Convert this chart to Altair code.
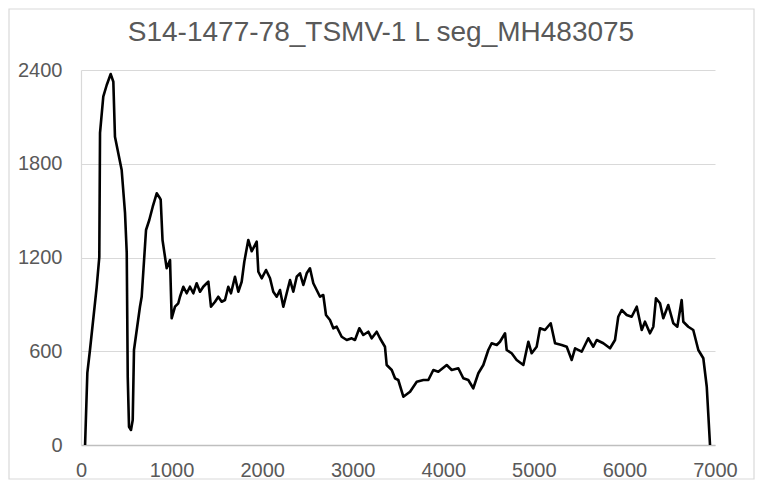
import altair as alt
import pandas as pd

title_text = "S14-1477-78_TSMV-1  L seg_MH483075"

positions = [45, 70, 99, 173, 202, 210, 246, 284, 328, 357, 375, 449, 486, 505, 516, 530, 552, 571, 585,
             651, 670, 718, 754, 792, 836, 872, 880, 900, 946, 983,
             1001, 1038, 1074, 1093, 1130, 1167, 1203, 1240, 1277, 1314, 1350, 1388, 1406, 1435, 1480,
             1516, 1553, 1590, 1626, 1656, 1700, 1737, 1774, 1803, 1847, 1885, 1940, 1958, 1995, 2043,
             2087, 2123, 2161, 2197, 2234, 2271, 2308, 2344, 2382, 2418, 2455, 2492, 2528, 2565, 2602,
             2639, 2675, 2705, 2749, 2786, 2823, 2878, 2934, 2989, 3025, 3073, 3117, 3172, 3210, 3265,
             3301, 3356, 3375, 3431, 3467, 3503, 3559,
             3633, 3707, 3780, 3835, 3890, 3945, 4038, 4093, 4166, 4221, 4276, 4331, 4387, 4442, 4497,
             4534, 4590, 4626, 4682, 4700, 4755, 4810, 4884, 4939, 4976, 5031, 5068, 5123, 5186, 5234,
             5307, 5363, 5418, 5455, 5528, 5601, 5656, 5694, 5767, 5841, 5896, 5932, 5970, 6025, 6080,
             6136, 6191, 6227, 6282, 6319, 6348, 6393, 6429, 6484, 6540, 6584, 6632, 6650, 6705, 6760,
             6816, 6871, 6909, 6945]
coverage = [0, 461, 608, 1011, 1203, 1997, 2229, 2304, 2374, 2325, 1973, 1760, 1485, 1229, 437, 117, 96, 160, 608,
            885, 949, 1376, 1440, 1525, 1611, 1579, 1570, 1312, 1131, 1184,
            811, 885, 907, 949, 1013, 971, 1013, 971, 1035, 981, 1013, 1035, 1045, 885, 917,
            949, 917, 928, 1013, 971, 1077, 981, 1045, 1173, 1312, 1240, 1301, 1109, 1067, 1120,
            1067, 981, 949, 992, 885, 971, 1056, 981, 1077, 1099, 1024, 1099, 1131, 1035, 992,
            949, 960, 832, 800, 747, 757, 693, 672, 683, 672, 747, 704, 725, 683, 725,
            683, 629, 512, 480, 427, 416, 309,
            341, 405, 416, 416, 480, 469, 512, 480, 491, 427, 416, 363, 459, 512, 608,
            651, 640, 661, 715, 608, 587, 544, 512, 661, 587, 629, 747, 736, 779, 651,
            640, 629, 544, 619, 597, 683, 629, 672, 651, 619, 672, 821, 864, 832, 821,
            885, 736, 789, 715, 757, 939, 907, 811, 896, 779, 757, 928, 789, 757, 736,
            608, 555, 373, 0]

x_ticks = [0, 1000, 2000, 3000, 4000, 5000, 6000, 7000]
y_ticks = [0, 600, 1200, 1800, 2400]

df = pd.DataFrame({"pos": positions, "cov": coverage})

FONT = "Liberation Sans"
GREY = "#595959"
W, H = 634, 375
PAD = {"left": 73, "top": 62, "right": 40, "bottom": 35}

line = alt.Chart(df).mark_line(color="black", strokeWidth=2.6, strokeJoin="round").encode(
    x=alt.X("pos:Q", scale=alt.Scale(domain=[0, 7000], nice=False),
            axis=alt.Axis(values=x_ticks, format="d", title=None, grid=False, ticks=False, tickSize=0,
                          labelPadding=15, labelFontSize=20, labelFont=FONT, labelColor=GREY,
                          domainColor="#bfbfbf", domainWidth=1.3, labelFlush=False)),
    y=alt.Y("cov:Q", scale=alt.Scale(domain=[0, 2400], nice=False),
            axis=alt.Axis(values=y_ticks, format="d", title=None, grid=True, gridColor="#d9d9d9",
                          gridWidth=1.2, ticks=False, tickSize=0, labelPadding=19, labelFontSize=20,
                          labelFont=FONT, labelColor=GREY, domainColor="#d9d9d9", domainWidth=1.2)),
)

one = pd.DataFrame({"a": [0]})

frame = alt.Chart(one).mark_rect(
    fillOpacity=0, stroke="#d9d9d9", strokeWidth=1.2
).encode(
    x=alt.value(-PAD["left"] + 1), x2=alt.value(W + PAD["right"] - 1),
    y=alt.value(-PAD["top"] + 1), y2=alt.value(H + PAD["bottom"] - 1),
)

title = alt.Chart(one).mark_text(
    font=FONT, fontSize=28, color=GREY, align="center", baseline="alphabetic"
).encode(
    x=alt.value(W / 2 - 17), y=alt.value(-29), text=alt.value(title_text)
)

chart = alt.layer(frame, line, title).properties(
    width=W, height=H,
    autosize=alt.AutoSizeParams(type="none"),
    padding=PAD,
).configure_view(stroke=None)

chart.save("out.html", embed_options={"renderer": "svg", "actions": False})
